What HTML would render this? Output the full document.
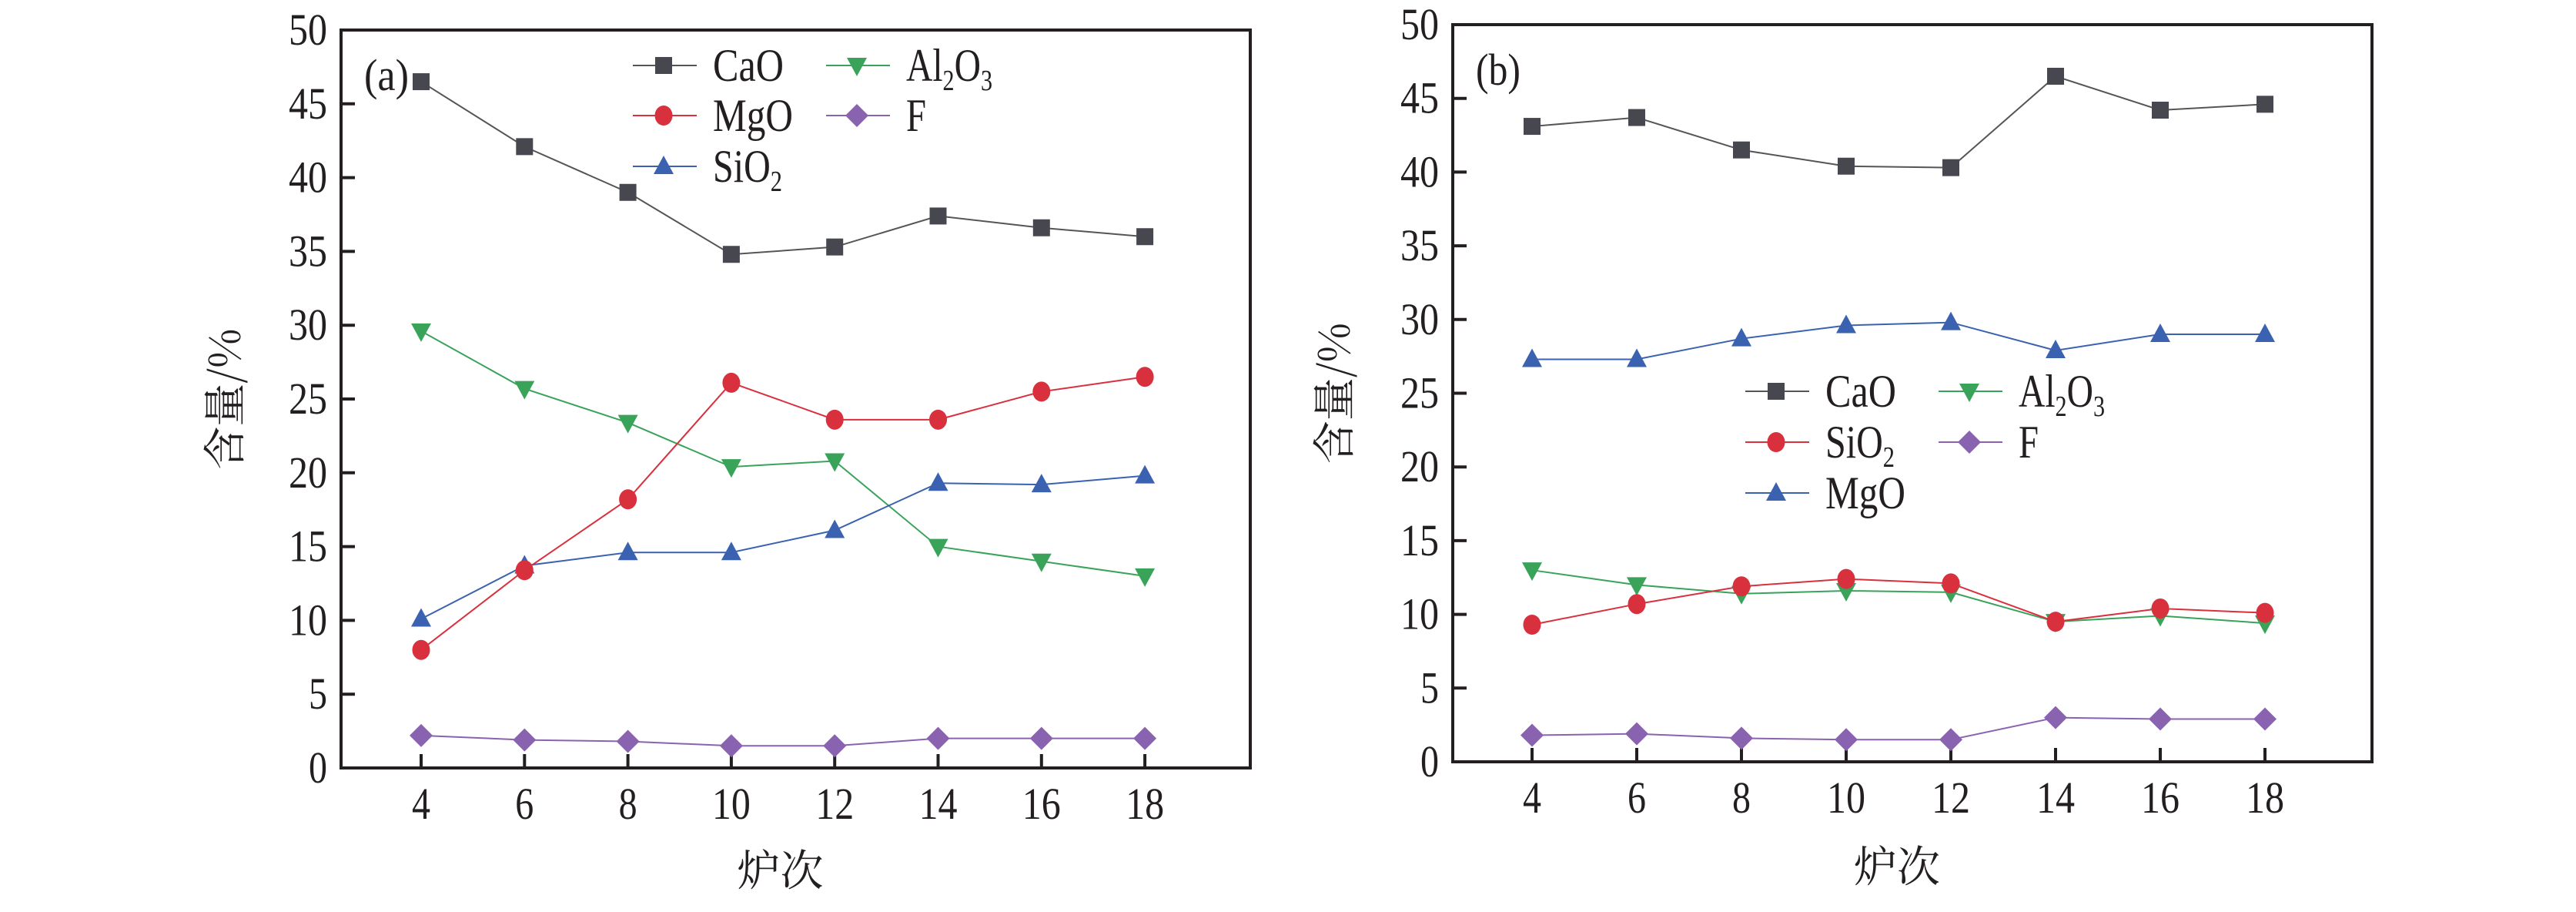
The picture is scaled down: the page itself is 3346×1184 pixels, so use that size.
<!DOCTYPE html>
<html><head><meta charset="utf-8"><style>
html,body{margin:0;padding:0;background:#fff;}
svg text{font-family:"Liberation Serif","Times New Roman","DejaVu Serif",serif;fill:#231f20;}
svg text.cn{font-family:"Noto Serif CJK SC","Liberation Serif",serif;}
</style></head><body>
<svg id="s" width="3346" height="1179" xmlns="http://www.w3.org/2000/svg"></svg>
<script>
const S=document.getElementById('s');let h='';
const col={CaO:'#474750',MgO:'#d9303e',SiO2:'#3b62b0',Al:'#3aa35a',F:'#8a63b0'};
const lcol={CaO:'#555',MgO:'#d9303e',SiO2:'#3b62b0',Al:'#3aa35a',F:'#8a63b0'};
function mk(t,x,y){const c=col[t];
 if(t=='CaO')return `<rect x="${x-11}" y="${y-11}" width="22" height="22" fill="${c}"/>`;
 if(t=='MgO'||t=='SiO2b')return `<ellipse cx="${x}" cy="${y}" rx="11.5" ry="13" fill="${col.MgO}"/>`;
 if(t=='SiO2'||t=='MgOb')return `<polygon points="${x},${y-14} ${x+13},${y+10} ${x-13},${y+10}" fill="${col.SiO2}"/>`;
 if(t=='Al')return `<polygon points="${x-13},${y-10} ${x+13},${y-10} ${x},${y+14}" fill="${c}"/>`;
 if(t=='F')return `<polygon points="${x},${y-15} ${x+15},${y} ${x},${y+15} ${x-15},${y}" fill="${c}"/>`;}
function lc(t){return {MgO:lcol.MgO,SiO2b:lcol.MgO,SiO2:lcol.SiO2,MgOb:lcol.SiO2}[t]||lcol[t];}
function panel(P){
 const {L,R,T,B,x4,dx,lab,series,leg,ylx,xl}=P;
 const X=v=>x4+(v-4)/2*dx, Y=v=>B-(v/50)*(B-T);
 h+=`<rect x="${L}" y="${T}" width="${R-L}" height="${B-T}" fill="none" stroke="#231f20" stroke-width="4"/>`;
 for(let v=0;v<=50;v+=5){const y=Y(v);if(v>0&&v<50)h+=`<line x1="${L}" y1="${y}" x2="${L+18}" y2="${y}" stroke="#231f20" stroke-width="4"/>`;
  h+=`<text x="${L-18}" y="${y+19}" font-size="58" text-anchor="end" textLength="${v<10?24:50}" lengthAdjust="spacingAndGlyphs">${v}</text>`;}
 for(let v=4;v<=18;v+=2){const x=X(v);h+=`<line x1="${x}" y1="${B}" x2="${x}" y2="${B-18}" stroke="#231f20" stroke-width="4"/>`;
  h+=`<text x="${x}" y="${B+66}" font-size="58" text-anchor="middle" textLength="${v<10?24:50}" lengthAdjust="spacingAndGlyphs">${v}</text>`;}
 h+=`<text x="${L+30}" y="${T+78}" font-size="58" textLength="58" lengthAdjust="spacingAndGlyphs">${lab}</text>`;
 h+=`<text class="cn" transform="translate(${ylx},${(T+B)/2}) rotate(-90)" x="0" y="0" font-size="56" text-anchor="middle">含量/%</text>`;
 h+=`<text class="cn" x="${(L+R)/2-20}" y="${xl}" font-size="56" text-anchor="middle">炉次</text>`;
 for(const [t,d] of series){let p=d.map((v,i)=>X(4+2*i)+','+Y(v)).join(' ');
  h+=`<polyline points="${p}" fill="none" stroke="${lc(t)}" stroke-width="2"/>`;}
 for(const [t,d] of series){d.forEach((v,i)=>h+=mk(t,X(4+2*i),Y(v)));}
 for(const [t,x,y,txt] of leg){h+=`<line x1="${x-40}" y1="${y}" x2="${x+43}" y2="${y}" stroke="${lc(t)}" stroke-width="2"/>`+mk(t,x,y);
  h+=`<text x="${x+64}" y="${y+20}" font-size="60" textLength="${txt.w}" lengthAdjust="spacingAndGlyphs">${txt.s}</text>`;}
}
const Al={s:'Al<tspan font-size="38" dy="12">2</tspan><tspan dy="-12">O</tspan><tspan font-size="38" dy="12">3</tspan>',w:112};
const Si={s:'SiO<tspan font-size="38" dy="12">2</tspan>',w:90};
panel({L:443,R:1624,T:39,B:997,x4:547,dx:134.3,lab:'(a)',ylx:312,xl:1150,
 series:[['F',[2.2,1.9,1.8,1.5,1.5,2.0,2.0,2.0]],['Al',[29.6,25.7,23.4,20.4,20.8,15.0,14.0,13.0]],['SiO2',[10.1,13.7,14.6,14.6,16.1,19.3,19.2,19.8]],['MgO',[8.0,13.4,18.2,26.1,23.6,23.6,25.5,26.5]],['CaO',[46.5,42.1,39.0,34.8,35.3,37.4,36.6,36.0]]],
 leg:[['CaO',862,85,{s:'CaO',w:92}],['Al',1113,85,Al],['MgO',862,150,{s:'MgO',w:104}],['F',1113,150,{s:'F',w:26}],['SiO2',862,216,Si]]});
panel({L:1887,R:3081,T:32,B:989,x4:1990,dx:136,lab:'(b)',ylx:1753,xl:1145,
 series:[['F',[1.8,1.9,1.6,1.5,1.5,3.0,2.9,2.9]],['Al',[13.0,12.0,11.4,11.6,11.5,9.5,9.9,9.4]],['SiO2b',[9.3,10.7,11.9,12.4,12.1,9.5,10.4,10.1]],['MgOb',[27.3,27.3,28.7,29.6,29.8,27.9,29.0,29.0]],['CaO',[43.1,43.7,41.5,40.4,40.3,46.5,44.2,44.6]]],
 leg:[['CaO',2307,508,{s:'CaO',w:92}],['Al',2558,508,Al],['SiO2b',2307,574,Si],['F',2558,574,{s:'F',w:26}],['MgOb',2307,640,{s:'MgO',w:104}]]});
S.innerHTML=h;
</script>
</body></html>
